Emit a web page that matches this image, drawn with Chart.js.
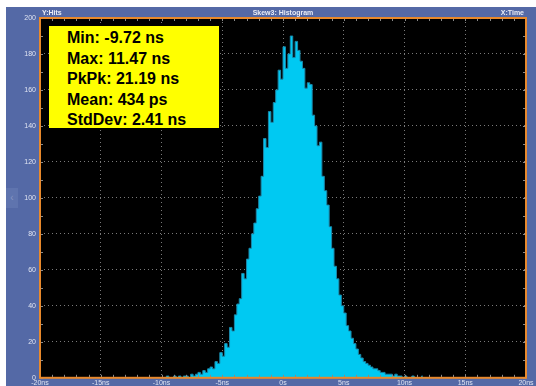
<!DOCTYPE html>
<html>
<head>
<meta charset="utf-8">
<script src="https://cdn.jsdelivr.net/npm/chart.js@4.4.0/dist/chart.umd.min.js"></script>
<style>
  html, body { margin: 0; padding: 0; background: #fff; }
  #wrap { position: relative; width: 536px; height: 386px; overflow: hidden; }
  #histo { position: absolute; left: 0; top: 0; }
  .ttl { position: absolute; top: 8px; font: bold 7px "Liberation Sans", Arial, sans-serif; color: #e8ecf6; line-height: 9px; white-space: nowrap; }
  #stats { position: absolute; left: 49px; top: 26px; width: 170px; height: 102px; background: #ffff00; box-sizing: border-box; padding: 2px 0 0 18px; font: bold 16px "Liberation Sans", Arial, sans-serif; color: #000; line-height: 20.6px; }
  #tab { position: absolute; left: 6px; top: 188px; width: 12px; height: 20px; background: #5f74ae; color: #8594c4; font: 10px "Liberation Sans", Arial, sans-serif; text-align: center; line-height: 20px; }
</style>
</head>
<body>
<div id="wrap">
  <canvas id="histo" width="536" height="386"></canvas>
  <div class="ttl" style="left:42px">Y:Hits</div>
  <div class="ttl" style="left:233px;width:100px;text-align:center">Skew3: Histogram</div>
  <div class="ttl" style="right:12px">X:Time</div>
  <div id="tab">&lsaquo;</div>
  <div id="stats">
    <div>Min: -9.72 ns</div>
    <div>Max: 11.47 ns</div>
    <div>PkPk: 21.19 ns</div>
    <div>Mean: 434 ps</div>
    <div>StdDev: 2.41 ns</div>
  </div>
</div>
<script>
// histogram bins: 0.2 ns wide, first bin starts at -10 ns
var binStartNs = -10.0;
var binWidthNs = 0.2;
var hits = [
  0, 0, 1, 0, 0, 1, 0, 1, 0, 1,
  1, 0, 2, 1, 2, 3, 2, 4, 3, 5,
  6, 5, 9, 8, 14, 12, 19, 17, 28, 26,
  35, 41, 44, 58, 55, 66, 72, 80, 86, 94,
  101, 112, 133, 128, 148, 142, 153, 160, 171, 166,
  184, 172, 180, 190, 178, 187, 182, 176, 172, 161,
  164, 163, 146, 140, 129, 131, 112, 104, 96, 84,
  72, 62, 55, 46, 40, 36, 29, 26, 22, 19,
  16, 13, 11, 9, 8, 7, 6, 5, 5, 4,
  3, 3, 2, 2, 2, 1, 2, 1, 1, 0,
  1, 0, 0, 1, 0, 0, 0, 1
];
var xTicks = [-20, -15, -10, -5, 0, 5, 10, 15, 20];
var xTickLabels = ['-20ns', '-15ns', '-10ns', '-5ns', '0s', '5ns', '10ns', '15ns', '20ns'];
var yTicks = [0, 20, 40, 60, 80, 100, 120, 140, 160, 180, 200];

var points = hits.map(function(h, i) {
  return { x: binStartNs + (i + 0.5) * binWidthNs, y: h };
});

var scopeFrame = {
  id: 'scopeFrame',
  beforeDraw: function(chart) {
    var ctx = chart.ctx, a = chart.chartArea;
    ctx.save();
    ctx.fillStyle = '#ffffff';
    ctx.fillRect(0, 0, chart.width, chart.height);
    ctx.fillStyle = '#5469a6';
    ctx.fillRect(6, 7, chart.width - 6, chart.height - 7);
    ctx.fillStyle = '#000000';
    ctx.fillRect(a.left, a.top, a.right - a.left, a.bottom - a.top);
    ctx.restore();
  },
  afterDraw: function(chart) {
    var ctx = chart.ctx, a = chart.chartArea;
    var xs = chart.scales.x, ys = chart.scales.y;
    ctx.save();
    // minor ticks
    ctx.strokeStyle = '#8a8a8a';
    ctx.lineWidth = 1;
    ctx.beginPath();
    for (var t = -20; t <= 20; t += 1) {
      var px = Math.round(xs.getPixelForValue(t)) + 0.5;
      ctx.moveTo(px, a.top); ctx.lineTo(px, a.top + 3);
      ctx.moveTo(px, a.bottom); ctx.lineTo(px, a.bottom - 3);
    }
    for (var v = 0; v <= 200; v += 10) {
      var py = Math.round(ys.getPixelForValue(v)) + 0.5;
      ctx.moveTo(a.left, py); ctx.lineTo(a.left + 3, py);
      ctx.moveTo(a.right, py); ctx.lineTo(a.right - 3, py);
    }
    ctx.stroke();
    // orange frame
    ctx.strokeStyle = '#e8892c';
    ctx.lineWidth = 2;
    ctx.strokeRect(a.left, a.top, a.right - a.left, a.bottom - a.top);
    ctx.restore();
  }
};

new Chart(document.getElementById('histo').getContext('2d'), {
  type: 'line',
  data: {
    datasets: [{
      label: 'Hits',
      data: points,
      stepped: 'middle',
      fill: 'origin',
      backgroundColor: '#00c9f2',
      borderColor: '#1a88aa',
      borderWidth: 1,
      pointRadius: 0
    }]
  },
  options: {
    responsive: false,
    devicePixelRatio: 1,
    animation: false,
    layout: { padding: { top: 18, right: 10, left: 0, bottom: 0 } },
    plugins: { legend: { display: false }, tooltip: { enabled: false } },
    scales: {
      x: {
        type: 'linear',
        min: -20,
        max: 20,
        afterFit: function(s) { s.height = 8; },
        afterBuildTicks: function(s) { s.ticks = xTicks.map(function(v) { return { value: v }; }); },
        ticks: {
          padding: 1,
          maxRotation: 0,
          color: '#dfe4f2',
          font: { family: 'Liberation Sans', size: 7 },
          callback: function(v) { return xTickLabels[xTicks.indexOf(v)]; }
        },
        grid: { color: '#7a7a7a', lineWidth: 1, drawTicks: false, tickLength: 0 },
        border: { display: false, dash: [1, 3] }
      },
      y: {
        min: 0,
        max: 200,
        afterFit: function(s) { s.width = 40; },
        afterBuildTicks: function(s) { s.ticks = yTicks.map(function(v) { return { value: v }; }); },
        ticks: {
          padding: 4,
          color: '#dfe4f2',
          font: { family: 'Liberation Sans', size: 7 }
        },
        grid: { color: '#7a7a7a', lineWidth: 1, drawTicks: false, tickLength: 0 },
        border: { display: false, dash: [1, 3] }
      }
    }
  },
  plugins: [scopeFrame]
});
</script>
</body>
</html>
